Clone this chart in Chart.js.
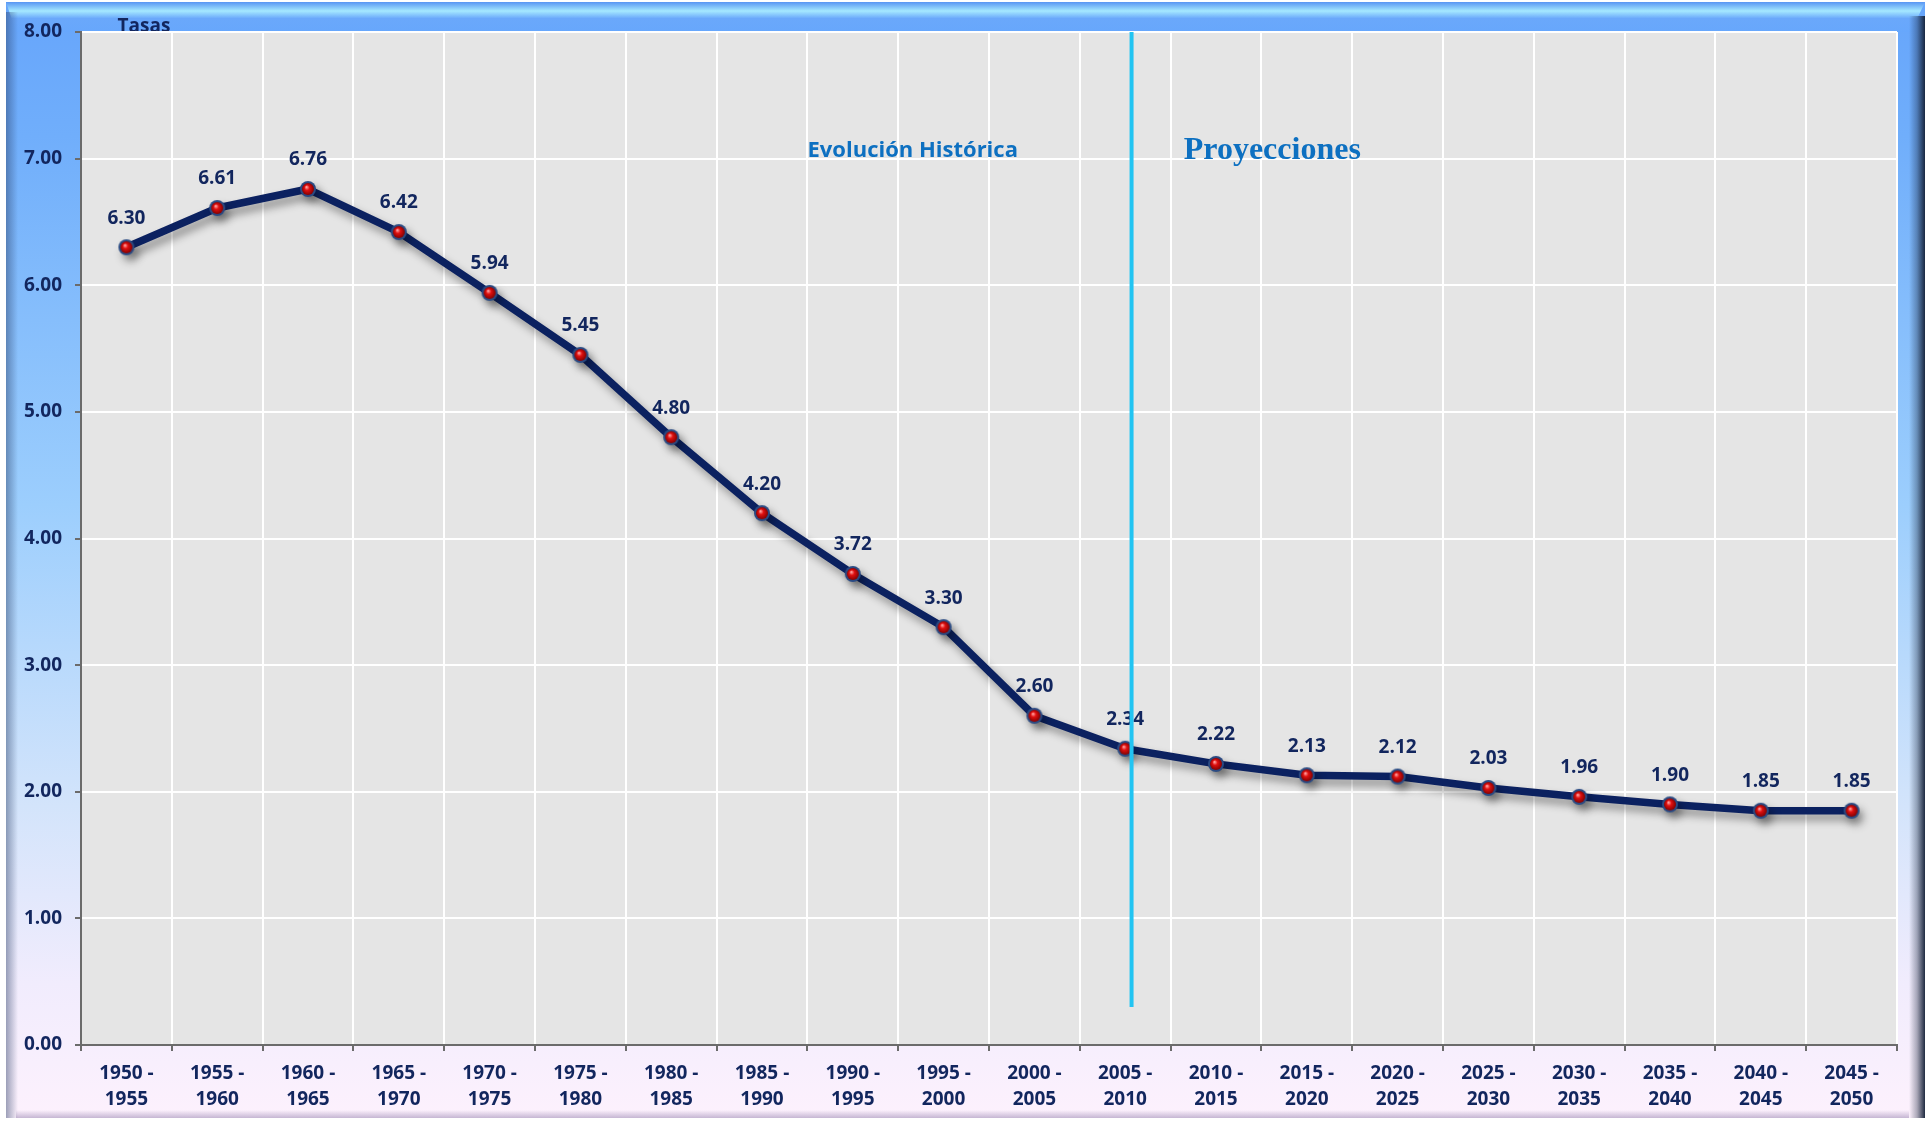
<!DOCTYPE html>
<html lang="es">
<head>
<meta charset="utf-8">
<title>Tasas</title>
<script src="https://cdn.jsdelivr.net/npm/chart.js@4.4.1/dist/chart.umd.min.js"></script>
<style>
  html, body { margin: 0; padding: 0; background: #fff; }
  #wrap { width: 1931px; height: 1121px; position: relative; }
</style>
</head>
<body>
<div id="wrap"><canvas id="chart"></canvas></div>
<script>
// quinquennial periods and rates
const periods = [
  "1950 - 1955", "1955 - 1960", "1960 - 1965", "1965 - 1970", "1970 - 1975",
  "1975 - 1980", "1980 - 1985", "1985 - 1990", "1990 - 1995", "1995 - 2000",
  "2000 - 2005", "2005 - 2010", "2010 - 2015", "2015 - 2020", "2020 - 2025",
  "2025 - 2030", "2030 - 2035", "2035 - 2040", "2040 - 2045", "2045 - 2050",
]
const rates = [
  6.30, 6.61, 6.76, 6.42, 5.94, 5.45, 4.80, 4.20, 3.72, 3.30,
  2.60, 2.34, 2.22, 2.13, 2.12, 2.03, 1.96, 1.90, 1.85, 1.85,
]
const yMin = 0
const yMax = 8
const yStep = 1

const yTitle = "Tasas"
const historyLabel = "Evolución Histórica"
const projectionLabel = "Proyecciones"

const NAVY = "#12265e"
const BLUE_TEXT = "#0d70c1"

// red sphere marker used as pointStyle
function sphere() {
  const c = document.createElement("canvas")
  c.width = 20; c.height = 20
  const x = c.getContext("2d")
  x.beginPath(); x.arc(10, 10, 8, 0, Math.PI * 2)
  x.fillStyle = "#2a4a82"; x.fill()
  const g = x.createRadialGradient(8.5, 8, 0.5, 10, 10, 6.5)
  g.addColorStop(0, "#ff9a9a")
  g.addColorStop(0.35, "#e01010")
  g.addColorStop(1, "#7a0000")
  x.beginPath(); x.arc(10, 10, 6, 0, Math.PI * 2)
  x.fillStyle = g; x.fill()
  return c
}

const framePlugin = {
  id: "frame",
  beforeDraw(chart) {
    const { ctx, width, height, chartArea: a } = chart
    const L = 6, T = 2, R = 1925, B = 1118
    ctx.save()
    ctx.fillStyle = "#ffffff"
    ctx.fillRect(0, 0, width, height)

    let g = ctx.createLinearGradient(0, T, 0, B)
    g.addColorStop(0, "#66a5fb")
    g.addColorStop(0.12, "#70aefb")
    g.addColorStop(0.45, "#9ccefd")
    g.addColorStop(0.72, "#d3e4fb")
    g.addColorStop(0.88, "#f1ecfd")
    g.addColorStop(1, "#fdf1fd")
    ctx.fillStyle = g
    ctx.fillRect(L, T, R - L, B - T)

    // top band with highlight
    g = ctx.createLinearGradient(0, T, 0, a.top)
    g.addColorStop(0, "#5895f3")
    g.addColorStop(0.3, "#a5e8ff")
    g.addColorStop(0.55, "#6aa8fb")
    g.addColorStop(1, "#67a7fc")
    ctx.fillStyle = g
    ctx.beginPath()
    ctx.moveTo(L, T); ctx.lineTo(R, T); ctx.lineTo(R - 14, a.top); ctx.lineTo(L + 10, a.top)
    ctx.closePath(); ctx.fill()

    // left bevel
    g = ctx.createLinearGradient(L, 0, L + 12, 0)
    g.addColorStop(0, "rgba(40,60,100,0.45)")
    g.addColorStop(1, "rgba(40,60,100,0)")
    ctx.fillStyle = g
    ctx.fillRect(L, T + 10, 12, B - T - 10)

    // right bevel
    g = ctx.createLinearGradient(R - 16, 0, R, 0)
    g.addColorStop(0, "rgba(20,32,55,0)")
    g.addColorStop(0.5, "rgba(20,32,55,0.35)")
    g.addColorStop(1, "rgba(20,32,55,0.95)")
    ctx.fillStyle = g
    ctx.fillRect(R - 16, T + 14, 16, B - T - 14)

    // bottom bevel
    g = ctx.createLinearGradient(0, B - 8, 0, B)
    g.addColorStop(0, "rgba(130,110,160,0)")
    g.addColorStop(1, "rgba(130,110,160,0.45)")
    ctx.fillStyle = g
    ctx.fillRect(L + 10, B - 8, R - L - 26, 8)

    // plot area
    ctx.fillStyle = "#e5e5e5"
    ctx.fillRect(a.left, a.top, a.right - a.left, a.bottom - a.top)

    // axis title
    ctx.fillStyle = NAVY
    ctx.font = "bold 19px 'Open Sans'"
    ctx.textAlign = "center"
    ctx.textBaseline = "middle"
    ctx.fillText(yTitle, 144, 27)
    ctx.restore()
  },
}

const shadowPlugin = {
  id: "lineShadow",
  beforeDatasetDraw(chart) {
    const ctx = chart.ctx
    ctx.save()
    ctx.shadowColor = "rgba(0,0,0,0.38)"
    ctx.shadowBlur = 9
    ctx.shadowOffsetX = 4
    ctx.shadowOffsetY = 6
  },
  afterDatasetDraw(chart) {
    chart.ctx.restore()
  },
}

const labelsPlugin = {
  id: "labels",
  afterDatasetsDraw(chart) {
    const { ctx, scales: { x, y } } = chart
    ctx.save()
    ctx.textAlign = "center"
    ctx.textBaseline = "middle"

    // section headings
    ctx.fillStyle = BLUE_TEXT
    ctx.font = "bold 22px 'Open Sans'"
    ctx.fillText(historyLabel, x.getPixelForValue(8.66), y.getPixelForValue(7.06))
    ctx.font = "bold 32px 'Liberation Serif'"
    ctx.fillText(projectionLabel, x.getPixelForValue(12.62), y.getPixelForValue(7.06))

    // value labels
    ctx.fillStyle = NAVY
    ctx.font = "bold 19px 'Open Sans'"
    chart.getDatasetMeta(0).data.forEach((pt, i) => {
      ctx.fillText(rates[i].toFixed(2), pt.x, pt.y - 29)
    })

    // history / projection divider
    const dx = x.getPixelForValue(11.07)
    ctx.strokeStyle = "#22c4f2"
    ctx.lineWidth = 4
    ctx.beginPath()
    ctx.moveTo(dx, y.getPixelForValue(yMax))
    ctx.lineTo(dx, y.getPixelForValue(0.3))
    ctx.stroke()
    ctx.restore()
  },
}

new Chart(document.getElementById("chart"), {
  type: "line",
  data: {
    labels: periods,
    datasets: [{
      data: rates,
      borderColor: "#0b2160",
      borderWidth: 7.5,
      borderJoinStyle: "round",
      tension: 0,
      pointStyle: sphere(),
      pointRadius: 8,
    }],
  },
  options: {
    responsive: true,
    maintainAspectRatio: false,
    animation: false,
    devicePixelRatio: 1,
    layout: { padding: { top: 32, right: 34, left: 0, bottom: 0 } },
    plugins: {
      legend: { display: false },
      tooltip: { enabled: false },
    },
    scales: {
      x: {
        offset: true,
        grid: { offset: true, color: "#ffffff", lineWidth: 2, tickColor: "#6b6b6b", tickLength: 6 },
        border: { color: "#6b6b6b", width: 2 },
        ticks: {
          color: NAVY,
          font: { family: "'Open Sans'", size: 19, weight: "bold", lineHeight: 1.35 },
          padding: 10,
          maxRotation: 0,
          autoSkip: false,
          callback: function (v) {
            const [a, b] = periods[v].split(" - ")
            return [a + " -", b]
          },
        },
        afterFit: (s) => { s.height = 76 },
      },
      y: {
        min: yMin,
        max: yMax,
        grid: { color: "#ffffff", lineWidth: 2, tickColor: "#6b6b6b", tickLength: 6 },
        border: { color: "#6b6b6b", width: 2 },
        ticks: {
          stepSize: yStep,
          color: NAVY,
          padding: 13,
          font: { family: "'Open Sans'", size: 19, weight: "bold" },
          callback: (v) => v.toFixed(2),
        },
        afterFit: (s) => { s.width = 81 },
      },
    },
  },
  plugins: [framePlugin, shadowPlugin, labelsPlugin],
})
</script>
</body>
</html>
